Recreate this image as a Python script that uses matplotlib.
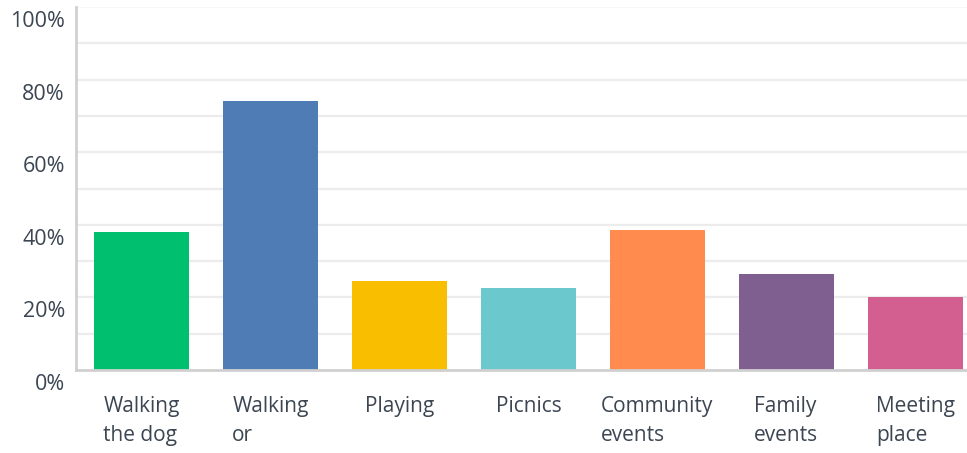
import matplotlib
matplotlib.use("Agg")
import matplotlib.pyplot as plt
import matplotlib.transforms as mtransforms
import numpy as np

categories = ["Walking\nthe dog", "Walking\nor", "Playing", "Picnics",
              "Community\nevents", "Family\nevents", "Meeting\nplace"]
values = [38.1, 74.1, 24.5, 22.6, 38.6, 26.4, 20.1]
colors = ["#00bf6f", "#507cb6", "#f9be00", "#6bc8cd", "#ff8b4f", "#7f5f90", "#d25f90"]
yticks = [0, 20, 40, 60, 80, 100]
ytick_labels = ["0%", "20%", "40%", "60%", "80%", "100%"]

plt.rcParams['font.family'] = ['Open Sans', 'DejaVu Sans']
text_color = "#3b4652"

W, H = 967, 453
fig = plt.figure(figsize=(W / 100, H / 100), dpi=100)
ax = fig.add_axes([76 / W, (H - 370) / H, (W - 76) / W, 363 / H])

x = np.arange(len(categories))
ax.bar(x, values, width=0.736, color=colors, zorder=3)

ax.set_ylim(0, 100)
ax.set_xlim(-0.507, 6.40)
for v in range(10, 100, 10):
    ax.axhline(v, color="#ececec", linewidth=1.6, zorder=1)
ax.axhline(100, color="#f8f8f8", linewidth=1.6, zorder=1)

ax.set_yticks(yticks)
ax.set_yticklabels(ytick_labels, fontsize=15.5, color=text_color)
ax.set_xticks(x)
ax.set_xticklabels(categories, fontsize=15, color=text_color,
                   multialignment='left', linespacing=1.5)
ax.tick_params(axis='both', length=0)
ax.tick_params(axis='y', pad=8)
ax.tick_params(axis='x', pad=19)

offset = mtransforms.ScaledTranslation(0, -12 / 100, fig.dpi_scale_trans)
for lbl in ax.get_yticklabels():
    lbl.set_transform(lbl.get_transform() + offset)

for s in ["top", "right"]:
    ax.spines[s].set_visible(False)
for s in ["left", "bottom"]:
    ax.spines[s].set_color("#d0d0d0")
    ax.spines[s].set_linewidth(2)
    ax.spines[s].set_zorder(4)

fig.savefig("out.png", dpi=100)
